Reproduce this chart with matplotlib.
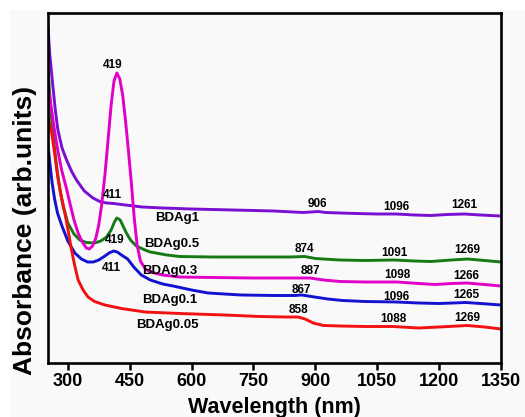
import matplotlib
matplotlib.use("Agg")
import matplotlib.pyplot as plt
from matplotlib.patches import Rectangle

# ---- UV-Vis-NIR absorbance spectra (arbitrary units) ----
wl_bdag1 = [252, 256, 264, 270, 276, 286, 297, 310, 321, 340, 361, 380, 395, 411, 430,
            450, 480, 530, 600, 700, 800, 870, 890, 906, 925, 960, 1000, 1050, 1096,
            1140, 1180, 1220, 1261, 1300, 1350]
ab_bdag1 = [3.36, 3.10, 2.76, 2.52, 2.33, 2.15, 2.03, 1.91, 1.83, 1.72, 1.65, 1.61, 1.60,
            1.595, 1.585, 1.575, 1.56, 1.55, 1.54, 1.53, 1.52, 1.505, 1.51, 1.515, 1.505,
            1.50, 1.495, 1.49, 1.49, 1.48, 1.475, 1.485, 1.49, 1.48, 1.47]

wl_bdag05 = [252, 256, 261, 267, 273, 281, 289, 300, 315, 329, 345, 365, 380, 394, 405,
             413, 419, 427, 435, 442, 452, 466, 487, 500, 540, 571, 650, 765, 840, 874,
             900, 959, 1020, 1091, 1140, 1180, 1230, 1269, 1310, 1350]
ab_bdag05 = [2.96, 2.70, 2.43, 2.18, 1.96, 1.73, 1.56, 1.40, 1.29, 1.23, 1.205, 1.20, 1.22,
             1.26, 1.33, 1.41, 1.45, 1.43, 1.36, 1.30, 1.23, 1.17, 1.13, 1.11, 1.08, 1.065,
             1.06, 1.06, 1.06, 1.065, 1.045, 1.03, 1.025, 1.03, 1.02, 1.015, 1.03, 1.04,
             1.025, 1.01]

wl_bdag03 = [252, 260, 268, 276, 285, 297, 305, 315, 325, 335, 345, 352, 360, 368, 375,
             382, 390, 398, 405, 412, 419, 426, 433, 440, 447, 454, 461, 468, 476, 488,
             500, 530, 570, 650, 750, 840, 887, 920, 960, 1020, 1098, 1150, 1190, 1230,
             1266, 1310, 1350]
ab_bdag03 = [2.78, 2.55, 2.32, 2.12, 1.93, 1.74, 1.60, 1.43, 1.30, 1.21, 1.15, 1.14, 1.17,
             1.25, 1.38, 1.58, 1.88, 2.25, 2.58, 2.82, 2.90, 2.84, 2.68, 2.42, 2.12, 1.80,
             1.45, 1.18, 1.02, 0.94, 0.91, 0.88, 0.86, 0.855, 0.85, 0.85, 0.85, 0.83,
             0.815, 0.81, 0.81, 0.795, 0.785, 0.795, 0.80, 0.785, 0.77]

wl_bdag01 = [252, 257, 262, 268, 275, 285, 300, 317, 333, 348, 362, 375, 390, 400, 411,
             420, 430, 445, 460, 478, 500, 530, 555, 600, 640, 720, 800, 850, 867, 890,
             930, 966, 1020, 1096, 1150, 1200, 1265, 1300, 1350]
ab_bdag01 = [2.18, 1.98, 1.80, 1.64, 1.50, 1.38, 1.22, 1.10, 1.04, 1.01, 1.01, 1.03, 1.07,
             1.10, 1.12, 1.11, 1.08, 1.04, 0.96, 0.88, 0.83, 0.79, 0.77, 0.73, 0.70, 0.68,
             0.675, 0.675, 0.68, 0.665, 0.64, 0.625, 0.615, 0.61, 0.60, 0.595, 0.605,
             0.595, 0.58]

wl_bdag005 = [252, 256, 261, 268, 276, 284, 293, 301, 309, 317, 325, 337, 349, 365, 390,
              430, 487, 571, 680, 765, 830, 858, 875, 895, 920, 960, 1020, 1088, 1150,
              1200, 1269, 1310, 1350]
ab_bdag005 = [2.48, 2.38, 2.30, 2.10, 1.85, 1.67, 1.50, 1.32, 1.13, 0.97, 0.83, 0.73, 0.66,
              0.615, 0.58, 0.545, 0.51, 0.495, 0.48, 0.465, 0.46, 0.46, 0.44, 0.40, 0.375,
              0.37, 0.365, 0.365, 0.35, 0.36, 0.375, 0.36, 0.34]

series_names = ["BDAg1", "BDAg0.5", "BDAg0.3", "BDAg0.1", "BDAg0.05"]
series_colors = ["#7a0fd2", "#167a14", "#e000c8", "#1212d0", "#f21010"]
series_wl = [wl_bdag1, wl_bdag05, wl_bdag03, wl_bdag01, wl_bdag005]
series_ab = [ab_bdag1, ab_bdag05, ab_bdag03, ab_bdag01, ab_bdag005]

# sample name labels: (x, y) in data units
name_x = [566, 552, 547, 547, 542]
name_y = [1.45, 1.19, 0.92, 0.63, 0.38]

# band position annotations: text, x, y
band_text = ["419", "411", "419", "411",
             "906", "1096", "1261",
             "874", "1091", "1269",
             "887", "1098", "1266",
             "867", "1096", "1265",
             "858", "1088", "1269"]
band_x = [410, 409, 414, 406,
          906, 1096, 1261,
          874, 1091, 1269,
          887, 1098, 1266,
          867, 1096, 1265,
          858, 1088, 1269]
band_y = [2.98, 1.68, 1.23, 0.95,
          1.59, 1.56, 1.58,
          1.14, 1.10, 1.13,
          0.92, 0.88, 0.87,
          0.73, 0.66, 0.68,
          0.53, 0.44, 0.45]

xticks = [300, 450, 600, 750, 900, 1050, 1200, 1350]

plt.rcParams["font.family"] = ["Liberation Sans", "DejaVu Sans"]
plt.rcParams["font.weight"] = "bold"

fig = plt.figure(figsize=(5.25, 4.17), dpi=100, facecolor="white")
fig.patches.append(Rectangle((10 / 525, 0), 1, (417 - 10) / 417,
                             transform=fig.transFigure, facecolor="#f9f9f9",
                             edgecolor="none", zorder=-10))
ax = fig.add_axes([48 / 525, 54 / 417, 453 / 525, 350 / 417])
ax.set_facecolor("#f9f9f9")

for wl, ab, col in zip(series_wl, series_ab, series_colors):
    ax.plot(wl, ab, color=col, lw=2.1, solid_capstyle="round")

for name, x, y in zip(series_names, name_x, name_y):
    ax.text(x, y, name, ha="center", va="center", fontsize=9.5, fontweight="bold")

for t, x, y in zip(band_text, band_x, band_y):
    ax.text(x, y, t, ha="center", va="center", fontsize=8.5, fontweight="bold")

ax.set_xlim(252, 1350)
ax.set_ylim(0, 3.5)
ax.set_xticks(xticks)
ax.set_xticklabels([str(v) for v in xticks], fontsize=13, fontweight="bold")
ax.set_yticks([])
ax.tick_params(axis="x", direction="out", length=5, width=1.8, pad=2)
for sp in ax.spines.values():
    sp.set_linewidth(1.9)
    sp.set_color("black")

ax.set_xlabel("Wavelength (nm)", fontsize=15.5, fontweight="bold", labelpad=5)
ax.set_ylabel("Absorbance (arb.units)", fontsize=19, fontweight="bold")
ax.yaxis.set_label_coords(-0.024, 0.38)

fig.savefig("out.png", dpi=100, facecolor=fig.get_facecolor())
